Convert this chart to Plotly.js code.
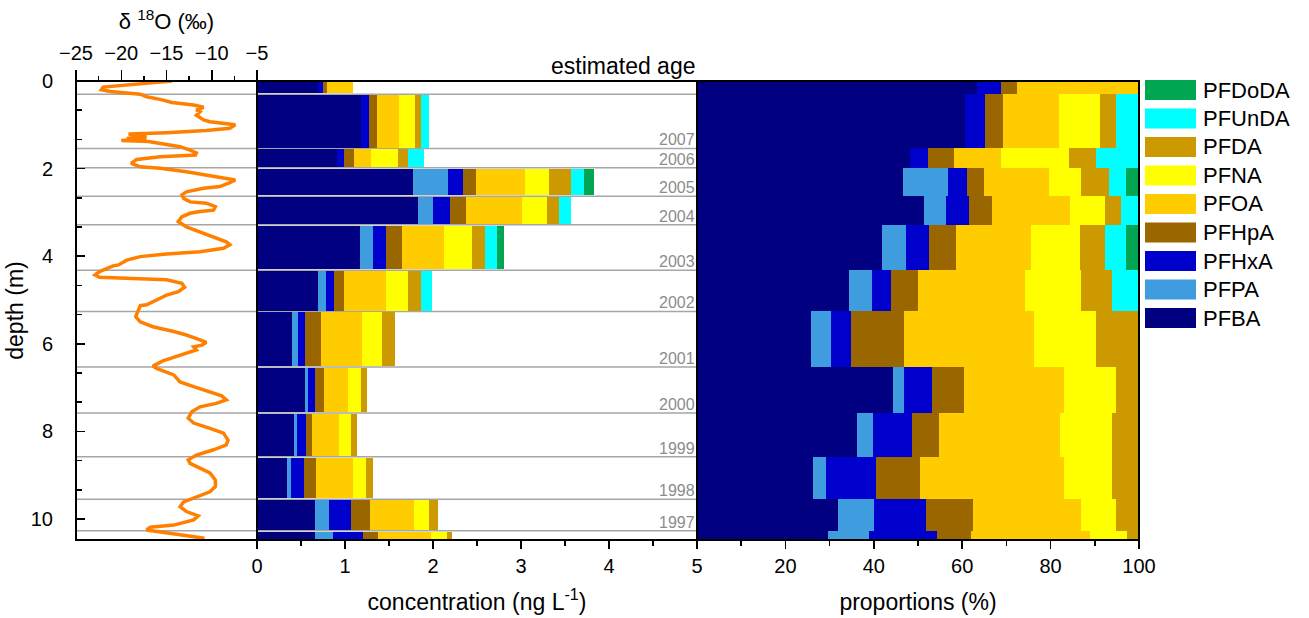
<!DOCTYPE html>
<html>
<head>
<meta charset="utf-8">
<script src="https://cdn.plot.ly/plotly-3.0.1.min.js"></script>
<style>html,body{margin:0;padding:0;background:#fff;}#chart{width:1309px;height:618px;}</style>
</head>
<body>
<div id="chart"></div>
<script>
// ---- data ----
const isoDepth = [0.00,0.07,0.14,0.20,0.24,0.30,0.36,0.42,0.47,0.49,0.55,0.57,0.60,0.66,0.70,0.78,0.83,0.89,0.93,0.97,1.00,1.08,1.13,1.18,1.21,1.26,1.31,1.33,1.36,1.38,1.44,1.50,1.58,1.64,1.69,1.71,1.73,1.79,1.88,1.96,1.99,2.07,2.15,2.22,2.26,2.32,2.37,2.41,2.45,2.53,2.60,2.68,2.76,2.79,2.87,2.95,2.98,3.02,3.10,3.21,3.33,3.44,3.57,3.67,3.74,3.82,3.90,3.95,4.01,4.09,4.20,4.22,4.35,4.43,4.48,4.50,4.54,4.62,4.71,4.81,4.89,5.04,5.11,5.13,5.30,5.38,5.50,5.61,5.72,5.80,5.91,5.97,6.03,6.07,6.14,6.26,6.39,6.51,6.56,6.71,6.87,6.98,7.09,7.19,7.28,7.36,7.44,7.55,7.70,7.81,7.93,8.04,8.20,8.31,8.42,8.54,8.65,8.73,8.84,8.95,9.11,9.26,9.38,9.49,9.61,9.72,9.83,9.93,10.02,10.14,10.19,10.25,10.31,10.39,10.44];
const isoD18O = [-14.4,-18.7,-22.0,-22.2,-21.2,-17.9,-17.2,-15.7,-14.6,-14.4,-12.0,-11.3,-10.9,-11.7,-11.3,-11.7,-11.3,-10.9,-10.2,-8.4,-7.4,-8.0,-10.6,-15.0,-19.2,-17.2,-19.4,-17.2,-20.0,-17.0,-15.0,-13.5,-12.4,-11.7,-11.8,-13.5,-15.7,-18.3,-18.9,-17.9,-15.7,-12.8,-10.6,-8.4,-7.4,-8.0,-8.7,-9.1,-10.9,-12.8,-13.3,-13.1,-12.4,-10.6,-9.6,-9.8,-11.3,-12.4,-13.3,-13.7,-12.8,-11.3,-9.5,-8.4,-8.0,-8.7,-11.3,-15.0,-17.9,-19.4,-20.3,-20.9,-22.4,-22.9,-22.4,-18.7,-15.0,-13.3,-13.0,-13.7,-15.0,-16.5,-17.2,-17.9,-18.3,-18.4,-17.9,-16.5,-14.2,-12.8,-11.3,-10.6,-11.1,-12.0,-11.7,-13.5,-15.4,-16.5,-16.1,-14.2,-13.5,-12.0,-10.2,-8.9,-8.4,-9.5,-11.3,-12.2,-12.6,-12.0,-10.2,-8.7,-8.2,-8.4,-9.8,-11.7,-12.6,-12.4,-11.3,-10.2,-9.6,-9.6,-10.2,-11.7,-13.1,-13.5,-12.8,-11.5,-12.0,-14.2,-16.8,-17.2,-15.0,-12.0,-10.8];

const sampleEdges = [0, 0.30, 1.54, 1.98, 2.63, 3.28, 4.32, 5.26, 6.53, 7.58, 8.58, 9.55, 10.27, 10.60];
const yearLabels = ['2007','2006','2005','2004','2003','2002','2001','2000','1999','1998','1997'];
const yearDepths = [1.54, 1.98, 2.63, 3.28, 4.32, 5.26, 6.53, 7.58, 8.58, 9.55, 10.27];

const species = ['PFBA','PFPA','PFHxA','PFHpA','PFOA','PFNA','PFDA','PFUnDA','PFDoDA'];

// concentrations (ng/L), one value per sample, top to bottom
const concPFBA   = [0.69, 1.18, 0.91, 1.77, 1.83, 1.17, 0.69, 0.40, 0.55, 0.415, 0.345, 0.655, 0.655];
const concPFPA   = [0, 0, 0, 0.40, 0.175, 0.15, 0.09, 0.07, 0.03, 0.035, 0.04, 0.165, 0.21];
const concPFHxA  = [0.06, 0.09, 0.08, 0.17, 0.185, 0.15, 0.095, 0.075, 0.08, 0.105, 0.15, 0.25, 0.34];
const concPFHpA  = [0.04, 0.09, 0.11, 0.145, 0.19, 0.175, 0.115, 0.185, 0.10, 0.065, 0.13, 0.215, 0.17];
const concPFOA   = [0.305, 0.25, 0.20, 0.56, 0.63, 0.48, 0.48, 0.46, 0.275, 0.31, 0.43, 0.50, 0.60];
const concPFNA   = [0, 0.18, 0.30, 0.275, 0.285, 0.315, 0.25, 0.23, 0.145, 0.135, 0.14, 0.17, 0.18];
const concPFDA   = [0, 0.07, 0.12, 0.25, 0.135, 0.155, 0.14, 0.145, 0.065, 0.07, 0.08, 0.10, 0.06];
const concPFUnDA = [0, 0.095, 0.18, 0.15, 0.14, 0.135, 0.125, 0, 0, 0, 0, 0, 0];
const concPFDoDA = [0, 0, 0, 0.11, 0, 0.08, 0, 0, 0, 0, 0, 0, 0];

// proportions (%)
const propPFBA   = [63.3, 60.6, 48.2, 46.5, 51.4, 41.9, 34.5, 25.8, 44.4, 36.3, 26.2, 31.8, 29.6];
const propPFPA   = [0, 0, 0, 10.2, 4.9, 5.4, 5.0, 4.5, 2.4, 3.6, 2.9, 8.3, 9.4];
const propPFHxA  = [5.5, 4.6, 4.1, 4.3, 5.2, 5.2, 4.5, 4.5, 6.4, 8.8, 11.3, 11.6, 15.2];
const propPFHpA  = [3.5, 4.0, 5.8, 3.9, 5.3, 6.0, 6.0, 12.0, 7.2, 6.1, 10.1, 10.7, 7.8];
const propPFOA   = [27.7, 12.7, 10.7, 14.7, 17.6, 17.1, 24.2, 29.4, 22.6, 27.3, 32.6, 24.4, 26.9];
const propPFNA   = [0, 9.3, 15.4, 7.2, 7.9, 11.1, 12.6, 14.1, 11.9, 11.7, 10.7, 8.1, 8.3];
const propPFDA   = [0, 3.6, 6.1, 6.3, 3.6, 5.6, 7.0, 9.7, 5.1, 6.2, 6.2, 5.1, 2.8];
const propPFUnDA = [0, 5.2, 9.7, 3.9, 4.1, 4.7, 6.2, 0, 0, 0, 0, 0, 0];
const propPFDoDA = [0, 0, 0, 3.0, 0, 3.0, 0, 0, 0, 0, 0, 0, 0];

// ---- styles ----
const colors = ['#000080','#3f9ddf','#0000cc','#996600','#ffcc00','#ffff00','#cc9900','#00ffff','#00a651'];
const FONT = 'Liberation Sans, Arial, sans-serif';
const concList = [concPFBA, concPFPA, concPFHxA, concPFHpA, concPFOA, concPFNA, concPFDA, concPFUnDA, concPFDoDA];
const propList = [propPFBA, propPFPA, propPFHxA, propPFHpA, propPFOA, propPFNA, propPFDA, propPFUnDA, propPFDoDA];

const mids = [], fullW = [], gapW = [];
for (let i = 0; i < sampleEdges.length - 1; i++) {
  mids.push((sampleEdges[i] + sampleEdges[i+1]) / 2);
  fullW.push(sampleEdges[i+1] - sampleEdges[i]);
  gapW.push(sampleEdges[i+1] - sampleEdges[i] - 0.04);
}

const D1 = 181/1063, D2 = 621/1063;

const traces = [];
traces.push({type:'scatter', mode:'lines', x: isoD18O, y: isoDepth, xaxis:'x', yaxis:'y',
  line:{color:'#ff8000', width:3.5}, showlegend:false, hoverinfo:'x+y'});
species.forEach((s, k) => {
  traces.push({type:'bar', orientation:'h', name:s, x: concList[k], y: mids, width: gapW,
    xaxis:'x2', yaxis:'y', marker:{color: colors[k], line:{width:0}}, showlegend:false});
});
species.forEach((s, k) => {
  traces.push({type:'bar', orientation:'h', name:s, x: propList[k], y: mids, width: fullW,
    xaxis:'x3', yaxis:'y', marker:{color: colors[k], line:{width:0}}, showlegend:false});
});

const shapes = [];
const annotations = [];
// sample boundary lines
for (let i = 1; i < sampleEdges.length - 1; i++) {
  shapes.push({type:'line', xref:'paper', yref:'y', x0:0, x1:D2, y0:sampleEdges[i], y1:sampleEdges[i],
    line:{color:'#a6a6a6', width:1.5}, layer:'below'});
}
// frame
shapes.push({type:'rect', xref:'paper', yref:'paper', x0:0, x1:1, y0:0, y1:1, line:{color:'#000', width:2}});
shapes.push({type:'line', xref:'paper', yref:'paper', x0:D1, x1:D1, y0:0, y1:1, line:{color:'#000', width:2}});
shapes.push({type:'line', xref:'paper', yref:'paper', x0:D2, x1:D2, y0:0, y1:1, line:{color:'#000', width:2}});

// year labels
yearLabels.forEach((t, i) => {
  annotations.push({xref:'paper', yref:'y', x:D2, y:yearDepths[i], xanchor:'right', yanchor:'bottom',
    yshift:-2, text:t, showarrow:false, font:{family:FONT, size:16, color:'#8c8c8c'}});
});
annotations.push({xref:'paper', yref:'paper', x:D2, y:1, xanchor:'right', yanchor:'bottom', yshift:0,
  text:'estimated age', showarrow:false, font:{family:FONT, size:23, color:'#000'}});

// legend (top: last species)
const H = 459;
for (let j = 0; j < species.length; j++) {
  const k = species.length - 1 - j;
  const yc = 1 - (9 + j*28.5) / H;
  const hh = 10 / H;
  shapes.push({type:'rect', xref:'paper', yref:'paper', x0:(1145-76)/1063, x1:(1196-76)/1063,
    y0:yc-hh, y1:yc+hh, fillcolor:colors[k], line:{width:0}});
  annotations.push({xref:'paper', yref:'paper', x:(1201-76)/1063, y:yc, xanchor:'left', yanchor:'middle',
    text:species[k], showarrow:false, font:{family:FONT, size:22, color:'#000'}});
}

const tickFont = {family:FONT, size:20, color:'#000'};
const titleFont = {family:FONT, size:23, color:'#000'};

const layout = {
  width:1309, height:618,
  margin:{l:76, r:170, t:81, b:78},
  paper_bgcolor:'#fff', plot_bgcolor:'rgba(0,0,0,0)',
  barmode:'stack', bargap:0,
  showlegend:false,
  font:{family:FONT, color:'#000'},
  xaxis:{domain:[0, D1], range:[-25,-5], side:'top', anchor:'y', tickmode:'array', tickvals:[-25,-20,-15,-10,-5],
    ticks:'outside', ticklen:10, tickwidth:1.5, tickcolor:'#000', showgrid:false, zeroline:false, showline:false,
    minor:{dtick:2.5, ticks:'outside', ticklen:4, tickwidth:1.5, tickcolor:'#000', showgrid:false},
    tickfont:tickFont, ticklabelstandoff:2, title:{text:'δ <sup>18</sup>O (‰)', font:{family:FONT, size:22, color:'#000'}, standoff:6}},
  xaxis2:{domain:[D1, D2], range:[0,5], anchor:'y', tickmode:'linear', tick0:0, dtick:1,
    ticks:'outside', ticklen:8, tickwidth:1.5, tickcolor:'#000', showgrid:false, zeroline:false, showline:false,
    minor:{dtick:0.5, ticks:'outside', ticklen:5, tickwidth:1.5, tickcolor:'#000', showgrid:false},
    tickfont:tickFont, ticklabelstandoff:0, title:{text:'concentration (ng L<sup>-1</sup>)', font:titleFont, standoff:17}},
  xaxis3:{domain:[D2, 1], range:[0,100], anchor:'y', tickmode:'array', tickvals:[20,40,60,80,100],
    ticks:'outside', ticklen:8, tickwidth:1.5, tickcolor:'#000', showgrid:false, zeroline:false, showline:false,
    minor:{dtick:10, ticks:'outside', ticklen:5, tickwidth:1.5, tickcolor:'#000', showgrid:false},
    tickfont:tickFont, ticklabelstandoff:0, title:{text:'proportions (%)', font:titleFont, standoff:17}},
  yaxis:{domain:[0,1], range:[10.48, 0], anchor:'x', tickmode:'array', tickvals:[0,2,4,6,8,10],
    ticks:'inside', ticklen:9, tickwidth:1.5, tickcolor:'#000', showgrid:false, zeroline:false, showline:false,
    minor:{dtick:2/3, tick0:0, ticks:'inside', ticklen:6, tickwidth:1.5, tickcolor:'#000', showgrid:false},
    tickfont:tickFont, ticklabelstandoff:22, title:{text:'depth (m)', font:titleFont, standoff:0}},
  shapes: shapes,
  annotations: annotations
};

Plotly.newPlot('chart', traces, layout, {displayModeBar:false, staticPlot:true});
</script>
</body>
</html>
